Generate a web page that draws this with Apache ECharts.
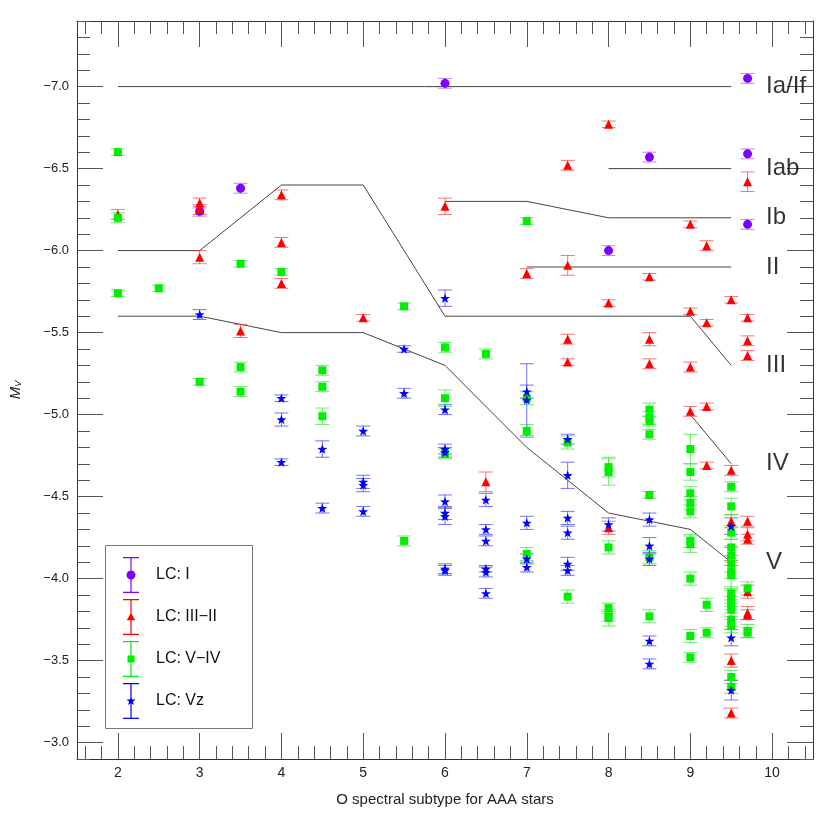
<!DOCTYPE html>
<html><head><meta charset="utf-8">
<script src="https://cdn.jsdelivr.net/npm/echarts@6/dist/echarts.min.js"></script>
<style>html,body{margin:0;padding:0;background:#fff}#c{width:830px;height:830px}</style>
</head><body><div id="c"></div><script>
// ---- tick labels ----
const xTicks = [2, 3, 4, 5, 6, 7, 8, 9, 10];
const yTicks = [-7.0, -6.5, -6.0, -5.5, -5.0, -4.5, -4.0, -3.5, -3.0];

// ---- data: [subtype, Mv, error] ----
const lcI = [
  [3, -6.24, 0.03], [3.5, -6.38, 0.03], [6, -7.02, 0.03], [8, -6.00, 0.03],
  [8.5, -6.57, 0.03], [9.7, -7.05, 0.03], [9.7, -6.59, 0.03], [9.7, -6.16, 0.03]
];
const lcIII_II = [
  [2, -6.22, 0.03], [3, -6.29, 0.03], [3, -6.25, 0.03], [3, -5.96, 0.04],
  [3.5, -5.51, 0.04], [4, -6.34, 0.03], [4, -6.05, 0.03], [4, -5.80, 0.03],
  [5, -5.59, 0.02], [6, -6.27, 0.05], [6.5, -4.59, 0.06], [7, -5.86, 0.03],
  [7.5, -6.52, 0.03], [7.5, -5.91, 0.06], [7.5, -5.46, 0.03], [7.5, -5.32, 0.02],
  [8, -6.77, 0.02], [8, -5.68, 0.02], [8, -4.31, 0.04],
  [8.5, -5.84, 0.02], [8.5, -5.46, 0.04], [8.5, -5.31, 0.03],
  [9, -6.16, 0.02], [9, -5.63, 0.02], [9, -5.29, 0.03], [9, -5.02, 0.03],
  [9.2, -6.03, 0.03], [9.2, -5.56, 0.02], [9.2, -5.05, 0.02], [9.2, -4.69, 0.02],
  [9.5, -5.70, 0.02], [9.5, -4.66, 0.03], [9.5, -4.35, 0.04], [9.5, -4.15, 0.04],
  [9.5, -3.50, 0.04], [9.5, -3.18, 0.03],
  [9.7, -6.42, 0.06], [9.7, -5.59, 0.02], [9.7, -5.45, 0.03], [9.7, -5.36, 0.03],
  [9.7, -4.35, 0.03], [9.7, -4.27, 0.04], [9.7, -4.24, 0.03], [9.7, -3.92, 0.04],
  [9.7, -3.79, 0.04], [9.7, -3.78, 0.03]
];
const lcV_IV = [
  [2, -6.60, 0.02], [2, -6.20, 0.03], [2, -5.74, 0.02], [2.5, -5.77, 0.02],
  [3, -5.20, 0.02], [3.5, -5.92, 0.02], [3.5, -5.29, 0.03], [3.5, -5.14, 0.03],
  [4, -5.87, 0.02], [4.5, -5.27, 0.03], [4.5, -5.17, 0.03], [4.5, -4.99, 0.05],
  [5.5, -5.66, 0.02], [5.5, -4.23, 0.03], [6, -5.41, 0.03], [6, -5.10, 0.05],
  [6, -4.76, 0.03], [6.5, -5.37, 0.03], [7, -6.18, 0.02], [7, -5.10, 0.04],
  [7, -4.90, 0.04], [7, -4.15, 0.04], [7.5, -4.83, 0.04], [7.5, -3.89, 0.04],
  [8, -4.68, 0.06], [8, -4.65, 0.08], [8, -4.19, 0.04], [8, -3.82, 0.03],
  [8, -3.77, 0.03], [8, -3.76, 0.05],
  [8.5, -5.03, 0.04], [8.5, -4.98, 0.04], [8.5, -4.96, 0.03], [8.5, -4.88, 0.03],
  [8.5, -4.51, 0.02], [8.5, -4.13, 0.04], [8.5, -3.77, 0.04],
  [9, -4.79, 0.09], [9, -4.65, 0.05], [9, -4.52, 0.04], [9, -4.46, 0.04],
  [9, -4.41, 0.04], [9, -4.23, 0.04], [9, -4.21, 0.05], [9, -4.00, 0.04],
  [9, -3.65, 0.04], [9, -3.52, 0.03], [9.2, -3.84, 0.04], [9.2, -3.67, 0.03],
  [9.5, -4.56, 0.03], [9.5, -4.44, 0.05], [9.5, -4.28, 0.04], [9.5, -4.19, 0.05],
  [9.5, -4.14, 0.06], [9.5, -4.09, 0.05], [9.5, -4.04, 0.04], [9.5, -4.02, 0.08],
  [9.5, -3.91, 0.04], [9.5, -3.88, 0.05], [9.5, -3.85, 0.04], [9.5, -3.81, 0.04],
  [9.5, -3.75, 0.04], [9.5, -3.71, 0.04], [9.5, -3.40, 0.04], [9.5, -3.34, 0.04],
  [9.7, -3.94, 0.04], [9.7, -3.68, 0.04], [9.7, -3.67, 0.03]
];
const lcVz = [
  [3, -5.61, 0.03], [4, -5.10, 0.02], [4, -4.97, 0.04], [4, -4.71, 0.02],
  [4.5, -4.79, 0.05], [4.5, -4.43, 0.03], [5, -4.90, 0.03], [5, -4.59, 0.04],
  [5, -4.57, 0.04], [5, -4.41, 0.03], [5.5, -5.40, 0.02], [5.5, -5.13, 0.03],
  [6, -5.71, 0.05], [6, -5.03, 0.03], [6, -4.79, 0.03], [6, -4.77, 0.03],
  [6, -4.47, 0.04], [6, -4.40, 0.04], [6, -4.38, 0.05], [6, -4.06, 0.03], [6, -4.05, 0.03],
  [6.5, -4.48, 0.04], [6.5, -4.30, 0.03], [6.5, -4.23, 0.03], [6.5, -4.06, 0.02],
  [6.5, -4.04, 0.03], [6.5, -3.91, 0.03],
  [7, -5.14, 0.04], [7, -5.09, 0.22], [7, -4.34, 0.04], [7, -4.12, 0.03], [7, -4.07, 0.03],
  [7.5, -4.85, 0.03], [7.5, -4.63, 0.08], [7.5, -4.37, 0.04], [7.5, -4.28, 0.04],
  [7.5, -4.09, 0.04], [7.5, -4.05, 0.03], [8, -4.33, 0.04],
  [8.5, -4.36, 0.04], [8.5, -4.20, 0.05], [8.5, -4.12, 0.04], [8.5, -3.62, 0.03], [8.5, -3.48, 0.03],
  [9.5, -4.32, 0.05], [9.5, -3.64, 0.05], [9.5, -3.32, 0.06]
];

// ---- luminosity-class calibration lines ----
const lineIaIf = [[2, -7.0], [9.5, -7.0]];
const lineIab = [[8, -6.5], [9.5, -6.5]];
const lineIb = [[6, -6.3], [7, -6.3], [8, -6.2], [9.5, -6.2]];
const lineII = [[7, -5.9], [9.5, -5.9]];
const lineIII = [[2, -6.0], [3, -6.0], [4, -6.4], [5, -6.4], [6, -5.6], [9, -5.6], [9.5, -5.3]];
const lineIV = [[9, -5.0], [9.5, -4.7]];
const lineV = [[2, -5.6], [3, -5.6], [4, -5.5], [5, -5.5], [6, -5.3], [7, -4.8], [8, -4.4], [9, -4.3], [9.5, -4.1]];
const classNames = ['Ia/If', 'Iab', 'Ib', 'II', 'III', 'IV', 'V'];
const classMv = [-7.0, -6.5, -6.2, -5.9, -5.3, -4.7, -4.1];
const classLabelX = 9.92;

// ---- minor tick positions ----
const xMinor = [];
for (let i = 16; i <= 104; i += 2) xMinor.push(i / 10);
const yMinor = [];
for (let i = -74; i <= -29; i++) yMinor.push(i / 10);

const FONT = 'Liberation Sans, Arial, Helvetica, sans-serif';
const colI = '#7f00ff', colIII = '#ff0000', colV = '#00ee00', colVz = '#0000ff';
const errI = 'rgba(140,60,255,0.6)', errIII = 'rgba(255,40,40,0.65)', errV = 'rgba(40,235,40,0.7)', errVz = 'rgba(40,40,255,0.65)';

const starPath = 'path://M0 -5L1.18 -1.62L4.76 -1.55L1.9 0.62L2.94 4.05L0 2L-2.94 4.05L-1.9 0.62L-4.76 -1.55L-1.18 -1.62Z';
const barPath = 'M0 0H16V1.2H0Z M7.4 0H8.6V36H7.4Z M0 34.8H16V36H0Z ';
const iconI = 'path://' + barPath + 'M12.5 18A4.5 4.5 0 1 1 3.5 18A4.5 4.5 0 1 1 12.5 18Z';
const iconIII = 'path://' + barPath + 'M8 13.8L12.2 21.2H3.8Z';
const iconV = 'path://' + barPath + 'M4.5 14.5H11.5V21.5H4.5Z';
const iconVz = 'path://' + barPath + 'M8 13L9.18 16.38L12.76 16.45L9.9 18.62L10.94 22.05L8 20L5.06 22.05L6.1 18.62L3.24 16.45L6.82 16.38Z';

function errRender(color) {
  return function (params, api) {
    const x = api.value(0), y = api.value(1), e = api.value(2);
    const a = api.coord([x, y - e]), b = api.coord([x, y + e]);
    const w = 7;
    const style = { stroke: color, lineWidth: 1 };
    return {
      type: 'group', children: [
        { type: 'line', shape: { x1: a[0], y1: a[1], x2: b[0], y2: b[1] }, style },
        { type: 'line', shape: { x1: a[0] - w, y1: a[1], x2: a[0] + w, y2: a[1] }, style },
        { type: 'line', shape: { x1: b[0] - w, y1: b[1], x2: b[0] + w, y2: b[1] }, style }
      ]
    };
  };
}
function errSeries(data, color) {
  return { type: 'custom', renderItem: errRender(color), data: data, encode: { x: 0, y: 1 }, z: 3, silent: true };
}
function lineSeries(data) {
  return { type: 'line', data: data, symbol: 'none', lineStyle: { color: '#444', width: 1 }, z: 1, silent: true, animation: false };
}

const tickStyle = { color: '#555', width: 1 };
function xAx(pos, major) {
  return {
    type: 'value', min: 1.5, max: 10.5, position: pos, splitLine: { show: false },
    axisLine: { show: major, onZero: false, lineStyle: { color: '#333', width: 1 } },
    axisTick: { show: true, inside: true, length: major ? 26 : 13, customValues: major ? xTicks : xMinor, lineStyle: tickStyle },
    axisLabel: { show: major && pos === 'bottom', customValues: xTicks, margin: 7, fontSize: 14, color: '#222', fontFamily: FONT },
    name: (major && pos === 'bottom') ? 'O spectral subtype for AAA stars' : '',
    nameLocation: 'middle', nameGap: 33,
    nameTextStyle: { fontSize: 15, color: '#222', fontFamily: FONT }
  };
}
function yAx(pos, major) {
  return {
    type: 'value', min: -7.4, max: -2.9, inverse: true, position: pos, splitLine: { show: false },
    axisLine: { show: major, onZero: false, lineStyle: { color: '#333', width: 1 } },
    axisTick: { show: true, inside: true, length: major ? 26 : 13, customValues: major ? yTicks : yMinor, lineStyle: tickStyle },
    axisLabel: {
      show: major && pos === 'left', customValues: yTicks, margin: 8, fontSize: 13, color: '#222', fontFamily: FONT,
      formatter: v => (v < 0 ? '\u2212' : '') + Math.abs(v).toFixed(1)
    },
    name: (major && pos === 'left') ? '{m|M}{s|V}' : '',
    nameLocation: 'middle', nameRotate: 90, nameGap: 54,
    nameTextStyle: {
      rich: {
        m: { fontSize: 15, fontStyle: 'italic', fontFamily: FONT, color: '#222' },
        s: { fontSize: 9, fontStyle: 'italic', fontFamily: FONT, color: '#222', padding: [6, 0, 0, 0] }
      }
    }
  };
}

const chart = echarts.init(document.getElementById('c'), null, { renderer: 'canvas' });
chart.setOption({
  animation: false,
  backgroundColor: '#fff',
  textStyle: { fontFamily: FONT },
  grid: { left: 76, right: 17, top: 21, bottom: 71, containLabel: false },
  xAxis: [xAx('bottom', true), xAx('bottom', false), xAx('top', true), xAx('top', false)],
  yAxis: [yAx('left', true), yAx('left', false), yAx('right', true), yAx('right', false)],
  legend: {
    orient: 'vertical', left: 123, top: 557, itemWidth: 16, itemHeight: 36, itemGap: 6, padding: 0,
    selectedMode: false,
    textStyle: { fontSize: 16, color: '#111', fontFamily: FONT, padding: [0, 0, 0, 12] },
    data: [
      { name: 'LC: I', icon: iconI },
      { name: 'LC: III\u2212II', icon: iconIII },
      { name: 'LC: V\u2212IV', icon: iconV },
      { name: 'LC: Vz', icon: iconVz }
    ]
  },
  graphic: [{
    type: 'rect', shape: { x: 105.5, y: 545.5, width: 147, height: 183 },
    style: { fill: 'none', stroke: '#777', lineWidth: 1 }, z: 100
  }],
  series: [
    lineSeries(lineIaIf), lineSeries(lineIab), lineSeries(lineIb), lineSeries(lineII),
    lineSeries(lineIII), lineSeries(lineIV), lineSeries(lineV),
    {
      type: 'scatter', data: classMv.map((v, i) => [classLabelX, v, classNames[i]]),
      symbolSize: 1, itemStyle: { color: 'rgba(0,0,0,0)' }, silent: true, z: 2,
      label: { show: true, position: 'right', distance: 0, formatter: p => p.value[2], fontSize: 24, color: '#000', fontFamily: FONT }
    },
    errSeries(lcI, errI),
    { name: 'LC: I', type: 'scatter', data: lcI, symbol: 'circle', symbolSize: 9, itemStyle: { color: colI, opacity: 1 }, z: 4 },
    errSeries(lcIII_II, errIII),
    { name: 'LC: III\u2212II', type: 'scatter', data: lcIII_II, symbol: 'triangle', symbolSize: 9, itemStyle: { color: colIII, opacity: 1 }, z: 4 },
    errSeries(lcV_IV, errV),
    { name: 'LC: V\u2212IV', type: 'scatter', data: lcV_IV, symbol: 'rect', symbolSize: 8, itemStyle: { color: colV, opacity: 1 }, z: 4 },
    errSeries(lcVz, errVz),
    { name: 'LC: Vz', type: 'scatter', data: lcVz, symbol: starPath, symbolKeepAspect: true, symbolSize: 10, itemStyle: { color: colVz, opacity: 1 }, z: 4 }
  ]
});
</script></body></html>
